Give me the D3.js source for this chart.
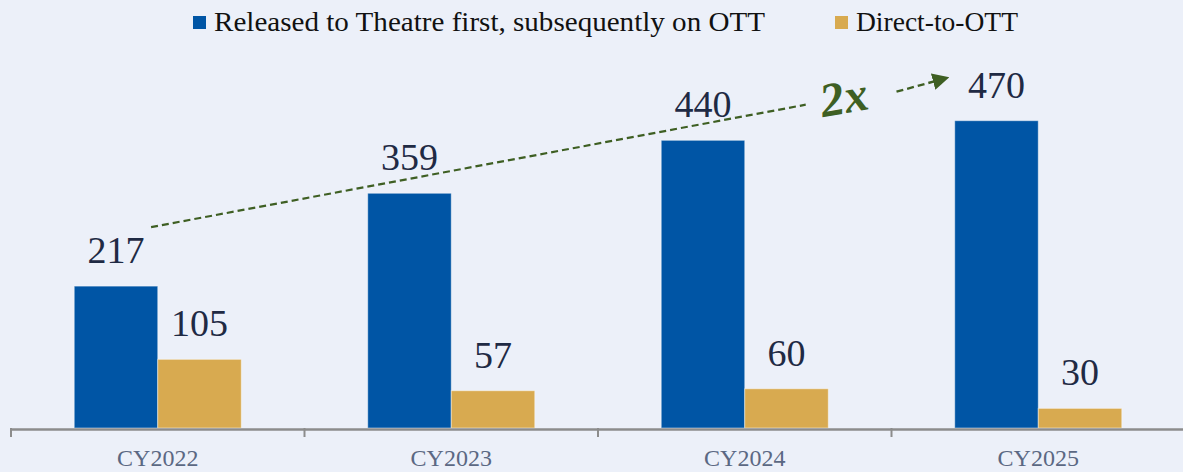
<!DOCTYPE html>
<html>
<head>
<meta charset="utf-8">
<script src="https://cdn.jsdelivr.net/npm/d3@7"></script>
<style>
  html, body { margin: 0; padding: 0; background: #ECF0F9; }
  svg { display: block; }
</style>
</head>
<body>
<div id="chart"></div>
<script>
// data
const years = ['CY2022', 'CY2023', 'CY2024', 'CY2025'];
const seriesNames = ['Released to Theatre first, subsequently on OTT', 'Direct-to-OTT'];
const theatreFirst = [217, 359, 440, 470];
const directOtt = [105, 57, 60, 30];
const growthLabel = '2x';

const width = 1183;
const height = 472;
const colors = ['#0055A5', '#D8AA50'];
const serif = '"Liberation Serif", "DejaVu Serif", serif';

const svg = d3.select('#chart').append('svg')
  .attr('width', width)
  .attr('height', height);

svg.append('rect')
  .attr('width', width).attr('height', height)
  .attr('fill', '#ECF0F9');

const x0 = d3.scaleBand()
  .domain(years)
  .range([11, 1185])
  .padding(0);

const x1 = d3.scaleBand()
  .domain(seriesNames)
  .range([0, x0.bandwidth()])
  .paddingInner(0)
  .paddingOuter(0.757);

const y = d3.scaleLinear()
  .domain([0, 650])
  .range([428, 3]);

const rows = years.map((yr, i) => ({
  year: yr,
  values: [theatreFirst[i], directOtt[i]],
}));

// bars
const groups = svg.selectAll('g.year')
  .data(rows)
  .enter().append('g')
  .attr('class', 'year')
  .attr('transform', (d) => `translate(${x0(d.year)},0)`);

groups.selectAll('rect')
  .data((d) => d.values.map((v, i) => ({ key: seriesNames[i], value: v, i })))
  .enter().append('rect')
  .attr('x', (d) => x1(d.key))
  .attr('y', (d) => y(d.value))
  .attr('width', x1.bandwidth())
  .attr('height', (d) => y(0) - y(d.value))
  .attr('fill', (d) => colors[d.i])
  .attr('stroke', 'rgba(255,255,255,0.45)')
  .attr('stroke-width', 1);

groups.selectAll('text.val')
  .data((d) => d.values.map((v, i) => ({ key: seriesNames[i], value: v })))
  .enter().append('text')
  .attr('class', 'val')
  .attr('x', (d) => x1(d.key) + x1.bandwidth() / 2)
  .attr('y', (d) => y(d.value) - 23)
  .attr('text-anchor', 'middle')
  .attr('font-family', serif)
  .attr('font-size', 38)
  .attr('fill', '#1F2A44')
  .text((d) => d.value);

// x axis
const axis = svg.append('g');
axis.append('line')
  .attr('x1', x0.range()[0]).attr('x2', width)
  .attr('y1', y(0) + 1.5).attr('y2', y(0) + 1.5)
  .attr('stroke', '#8C8C8C')
  .attr('stroke-width', 2.5);

axis.selectAll('line.tick')
  .data(years)
  .enter().append('line')
  .attr('class', 'tick')
  .attr('x1', (d) => x0(d)).attr('x2', (d) => x0(d))
  .attr('y1', y(0)).attr('y2', y(0) + 9)
  .attr('stroke', '#8C8C8C')
  .attr('stroke-width', 2);

axis.selectAll('text')
  .data(years)
  .enter().append('text')
  .attr('x', (d) => x0(d) + x0.bandwidth() / 2)
  .attr('y', 466)
  .attr('text-anchor', 'middle')
  .attr('font-family', serif)
  .attr('font-size', 24)
  .attr('fill', '#5B6883')
  .text((d) => d);

// legend
const legend = svg.append('g');
const legendItems = [
  { name: seriesNames[0], x: 193, len: 551 },
  { name: seriesNames[1], x: 835, len: 162 },
];
legendItems.forEach((d, i) => {
  legend.append('rect')
    .attr('x', d.x).attr('y', 16)
    .attr('width', 13).attr('height', 13)
    .attr('fill', colors[i]);
  legend.append('text')
    .attr('x', d.x + 21).attr('y', 31)
    .attr('font-family', serif)
    .attr('font-size', 27)
    .attr('fill', '#111')
    .attr('textLength', d.len)
    .attr('lengthAdjust', 'spacingAndGlyphs')
    .text(d.name);
});

// growth annotation
const green = '#3E5F23';
const bx0 = x0(years[0]) + x1(seriesNames[0]) + x1.bandwidth() * 0.92;
const by0 = y(theatreFirst[0]) - 59;
const bx1 = x0(years[2]) + x1(seriesNames[1]) + x1.bandwidth() * 0.73;
const by1 = y(theatreFirst[3]) - 16;

svg.append('defs').append('marker')
  .attr('id', 'arrow')
  .attr('viewBox', '0 0 10 10')
  .attr('refX', 9).attr('refY', 5)
  .attr('markerWidth', 7).attr('markerHeight', 7)
  .attr('orient', 'auto')
  .append('path')
  .attr('d', 'M0,0 L10,5 L0,10 z')
  .attr('fill', green);

svg.append('line')
  .attr('x1', bx0).attr('y1', by0)
  .attr('x2', bx1).attr('y2', by1)
  .attr('stroke', green)
  .attr('stroke-width', 2.2)
  .attr('stroke-dasharray', '7,4');

const ax0 = x0(years[3]) + 5;
const ay0 = y(theatreFirst[3]) - 29;
const ax1 = x0(years[3]) + x1(seriesNames[0]) - 7;
const ay1 = y(theatreFirst[3]) - 43;
svg.append('line')
  .attr('x1', ax0).attr('y1', ay0)
  .attr('x2', ax1).attr('y2', ay1)
  .attr('stroke', green)
  .attr('stroke-width', 2.4)
  .attr('stroke-dasharray', '7,4')
  .attr('marker-end', 'url(#arrow)');

svg.append('text')
  .attr('transform', `translate(${x0(years[2]) + x1(seriesNames[1]) + x1.bandwidth() * 1.22},113) rotate(-10)`)
  .attr('text-anchor', 'middle')
  .attr('font-family', serif)
  .attr('font-weight', 'bold')
  .attr('font-style', 'italic')
  .attr('font-size', 48)
  .attr('fill', green)
  .text(growthLabel);
</script>
</body>
</html>
